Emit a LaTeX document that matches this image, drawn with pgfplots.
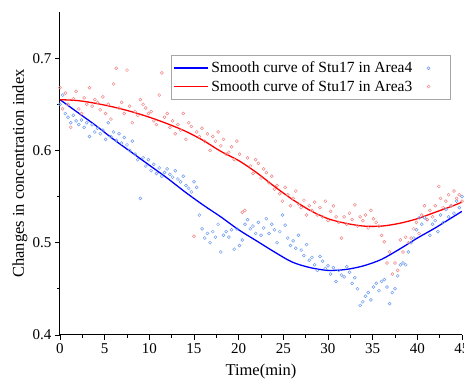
\documentclass[border=0pt]{standalone}
\usepackage{fontspec}
\setmainfont{Liberation Serif}
\usepackage{pgfplots}
\pgfplotsset{compat=1.18}
\definecolor{ptblue}{RGB}{110,155,240}
\definecolor{ptred}{RGB}{240,135,135}
\pgfplotsset{longline/.style={legend image code/.code={\draw[##1, line width=1.8pt] (0pt,0pt) -- (34pt,0pt);}},
  dotimg/.style={legend image code/.code={\draw[##1, line width=0.5pt] (6pt,0pt) circle[radius=1.5pt]; \path (0pt,0pt) (21pt,0pt);}}}
\begin{document}
\begin{tikzpicture}
\useasboundingbox (-60pt,-52pt) rectangle (404pt,335pt);
\begin{axis}[
  scale only axis, width=402pt, height=323pt,
  xmin=0, xmax=45, ymin=0.4, ymax=0.75,
  axis x line*=bottom, axis y line*=left,
  axis line style={-, line width=1pt, black},
  xtick={0,5,...,45}, ytick={0.4,0.5,0.6,0.7},
  minor tick num=1,
  tick align=outside,
  major tick length=5pt, minor tick length=3pt,
  every tick/.style={black, line width=0.9pt},
  /pgf/number format/assume math mode=true,
  /pgf/number format/fixed, /pgf/number format/precision=1,
  tick label style={font=\fontsize{15}{15}\selectfont},
  xlabel={Time(min)}, ylabel={Changes in concentration index},
  every axis x label/.style={at={(axis description cs:0.5,0)}, yshift=-37pt, anchor=center, font=\fontsize{16.5}{16.5}\selectfont},
  every axis y label/.style={at={(axis description cs:0,0.5)}, xshift=-40pt, rotate=90, anchor=center, font=\fontsize{16.5}{16.5}\selectfont},
  legend style={at={(0.970,0.866)}, anchor=north east, draw=gray!70,
     font=\fontsize{15.5}{17}\selectfont, inner xsep=2pt, inner ysep=4.5pt, row sep=2pt,
     /tikz/every even column/.append style={column sep=8pt}},
  legend columns=2,
  legend cell align=left,
]
\addplot[only marks, mark=o, ptblue, mark size=1.5pt, mark options={line width=0.5pt}, forget plot] table {
0.0 0.650
0.3 0.660
0.6 0.640
0.9 0.636
1.2 0.630
1.5 0.638
1.8 0.632
2.1 0.628
2.4 0.633
2.7 0.625
3.0 0.630
3.3 0.615
3.6 0.628
3.9 0.620
4.2 0.624
4.5 0.618
4.8 0.622
5.1 0.612
5.4 0.630
5.7 0.615
6.0 0.620
6.3 0.611
6.6 0.618
6.9 0.608
7.2 0.614
7.5 0.606
7.8 0.600
8.1 0.610
8.4 0.596
8.7 0.590
9.0 0.548
9.3 0.592
9.6 0.583
9.9 0.590
10.2 0.578
10.5 0.585
10.8 0.575
11.1 0.581
11.4 0.572
11.7 0.576
12.0 0.580
12.3 0.574
12.6 0.571
12.9 0.578
13.2 0.569
13.5 0.566
13.8 0.572
14.1 0.562
14.4 0.559
14.7 0.555
15.0 0.566
15.3 0.560
15.6 0.530
15.9 0.515
16.2 0.505
16.5 0.510
16.8 0.500
17.1 0.512
17.4 0.506
17.7 0.520
18.0 0.490
18.3 0.508
18.6 0.512
18.9 0.506
19.2 0.514
19.5 0.493
19.8 0.515
20.1 0.497
20.4 0.503
20.7 0.520
21.0 0.525
21.3 0.515
21.6 0.518
21.9 0.510
22.2 0.522
22.5 0.508
22.8 0.516
23.1 0.526
23.4 0.510
23.7 0.520
24.0 0.514
24.3 0.500
24.6 0.512
24.9 0.530
25.2 0.519
25.5 0.505
25.8 0.497
26.1 0.502
26.4 0.494
26.7 0.508
27.0 0.492
27.3 0.486
27.6 0.498
27.9 0.481
28.2 0.484
28.5 0.476
28.8 0.470
29.1 0.485
29.4 0.480
29.7 0.472
30.0 0.475
30.3 0.466
30.6 0.473
30.9 0.458
31.2 0.470
31.5 0.465
31.8 0.463
32.1 0.474
32.4 0.468
32.7 0.456
33.0 0.462
33.3 0.450
33.6 0.432
33.9 0.436
34.2 0.442
34.5 0.446
34.8 0.438
35.1 0.452
35.4 0.456
35.7 0.448
36.0 0.458
36.3 0.460
36.6 0.452
36.9 0.434
37.2 0.446
37.5 0.450
37.8 0.464
38.1 0.476
38.4 0.478
38.7 0.476
39.0 0.490
39.3 0.500
39.6 0.505
39.9 0.514
40.2 0.527
40.5 0.520
40.8 0.527
41.1 0.525
41.4 0.508
41.7 0.520
42.0 0.524
42.3 0.512
42.6 0.530
42.9 0.522
43.2 0.536
43.5 0.528
43.8 0.540
44.1 0.532
44.4 0.545
44.7 0.538
45.0 0.550
};
\addplot[only marks, mark=o, ptred, mark size=1.5pt, mark options={line width=0.5pt}, forget plot] table {
0.0 0.668
0.3 0.645
0.6 0.662
0.9 0.650
1.2 0.625
1.5 0.656
1.8 0.664
2.1 0.645
2.4 0.640
2.7 0.657
3.0 0.650
3.3 0.668
3.6 0.648
3.9 0.655
4.2 0.652
4.5 0.644
4.8 0.658
5.1 0.640
5.4 0.650
5.7 0.634
6.0 0.672
6.3 0.689
6.6 0.646
6.9 0.652
7.2 0.640
7.5 0.687
7.8 0.648
8.1 0.630
8.4 0.642
8.7 0.638
9.0 0.655
9.3 0.650
9.6 0.646
9.9 0.640
10.2 0.642
10.5 0.632
10.8 0.628
11.1 0.660
11.4 0.684
11.7 0.636
12.0 0.640
12.3 0.625
12.6 0.632
12.9 0.618
13.2 0.628
13.5 0.622
13.8 0.640
14.1 0.612
14.4 0.630
14.7 0.626
15.0 0.507
15.3 0.620
15.6 0.615
15.9 0.624
16.2 0.610
16.5 0.618
16.8 0.600
17.1 0.615
17.4 0.610
17.7 0.620
18.0 0.605
18.3 0.612
18.6 0.596
18.9 0.598
19.2 0.604
19.5 0.590
19.8 0.610
20.1 0.596
20.4 0.533
20.7 0.535
21.0 0.592
21.3 0.583
21.6 0.575
21.9 0.590
22.2 0.586
22.5 0.570
22.8 0.580
23.1 0.576
23.4 0.565
23.7 0.572
24.0 0.558
24.3 0.562
24.6 0.553
24.9 0.545
25.2 0.560
25.5 0.552
25.8 0.540
26.1 0.548
26.4 0.556
26.7 0.542
27.0 0.538
27.3 0.546
27.6 0.530
27.9 0.540
28.2 0.535
28.5 0.544
28.8 0.530
29.1 0.538
29.4 0.528
29.7 0.545
30.0 0.524
30.3 0.534
30.6 0.540
30.9 0.528
31.2 0.522
31.5 0.505
31.8 0.528
32.1 0.520
32.4 0.532
32.7 0.525
33.0 0.541
33.3 0.518
33.6 0.528
33.9 0.524
34.2 0.530
34.5 0.516
34.8 0.535
35.1 0.526
35.4 0.522
35.7 0.518
36.0 0.508
36.3 0.501
36.6 0.478
36.9 0.490
37.2 0.466
37.5 0.478
37.8 0.470
38.1 0.503
38.4 0.490
38.7 0.506
39.0 0.500
39.3 0.505
39.6 0.515
39.9 0.522
40.2 0.510
40.5 0.530
40.8 0.540
41.1 0.525
41.4 0.535
41.7 0.528
42.0 0.540
42.4 0.561
42.6 0.548
42.9 0.538
43.2 0.545
43.5 0.552
43.8 0.540
44.1 0.556
44.4 0.548
44.7 0.552
45.0 0.545
};
\addplot[blue, line width=1.3pt, smooth, forget plot] coordinates {
(0,0.655) (2,0.641) (4,0.627) (6,0.612) (8,0.598) (10,0.584) (12,0.570) (14,0.555) (16,0.541) (18,0.528) (20,0.514) (22,0.502) (24,0.490) (26,0.479) (28,0.473) (30,0.470) (32,0.471) (34,0.475) (36,0.482) (38,0.493) (40,0.505) (42,0.516) (44,0.528) (45,0.534)
};
\addplot[red, line width=1.3pt, smooth, forget plot] coordinates {
(0,0.655) (2,0.654) (4,0.651) (6,0.647) (8,0.642) (10,0.636) (12,0.629) (14,0.621) (16,0.611) (18,0.599) (20,0.589) (22,0.576) (24,0.561) (26,0.547) (28,0.535) (30,0.526) (32,0.521) (34,0.518) (36,0.518) (38,0.521) (40,0.526) (42,0.533) (44,0.540) (45,0.544)
};
\addlegendimage{blue, longline}
\addlegendentry{Smooth curve of Stu17 in Area4}
\addlegendimage{ptblue, dotimg}
\addlegendentry{}
\addlegendimage{red, longline}
\addlegendentry{Smooth curve of Stu17 in Area3}
\addlegendimage{ptred, dotimg}
\addlegendentry{}
\end{axis}
\end{tikzpicture}
\end{document}
